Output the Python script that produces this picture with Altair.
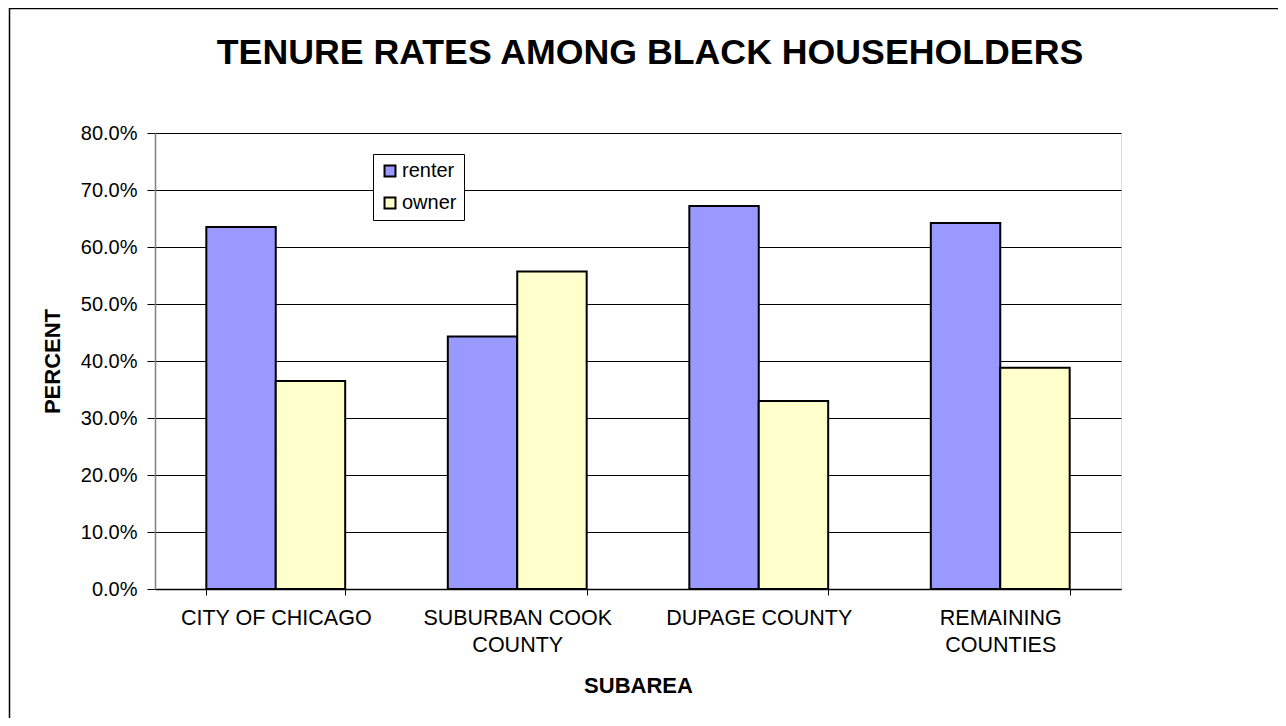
import altair as alt
import pandas as pd

title_text = ["TENURE RATES AMONG BLACK HOUSEHOLDERS"]
categories = ["CITY OF CHICAGO", "SUBURBAN COOK COUNTY", "DUPAGE COUNTY", "REMAINING COUNTIES"]
label_lines = [["CITY OF CHICAGO"], ["SUBURBAN COOK", "COUNTY"], ["DUPAGE COUNTY"], ["REMAINING", "COUNTIES"]]
series = ["renter", "owner"]
renter = [0.635, 0.443, 0.672, 0.642]
owner = [0.365, 0.557, 0.330, 0.388]
colors = ["#9999FF", "#FFFFCC"]
y_ticks = [0.0, 0.1, 0.2, 0.3, 0.4, 0.5, 0.6, 0.7, 0.8]

rows = []
for i, c in enumerate(categories):
    rows.append({"subarea": c, "tenure": "renter", "pct": renter[i]})
    rows.append({"subarea": c, "tenure": "owner", "pct": owner[i]})
df = pd.DataFrame(rows)

# multi-line label expression built from label_lines
expr = "datum.label"
for c, lines in zip(categories, label_lines):
    if len(lines) > 1:
        arr = "[" + ", ".join("'" + l + "'" for l in lines) + "]"
        expr = f"datum.label == '{c}' ? {arr} : (" + expr + ")"

FONT = "Liberation Sans"

bars = alt.Chart(df).mark_bar(stroke="black", strokeWidth=2).encode(
    x=alt.X(
        "subarea:N",
        sort=categories,
        scale=alt.Scale(paddingInner=0.425, paddingOuter=0.2125),
        axis=alt.Axis(
            title="SUBAREA",
            labelAngle=0,
            labelExpr=expr,
            labelLimit=0,
            labelFontSize=21.5,
            labelLineHeight=27.5,
            labelPadding=12,
            labelColor="black",
            labelFont=FONT,
            labelBaseline="top",
            tickBand="extent",
            tickSize=6,
            tickColor="black",
            domainColor="black",
            domainWidth=1.5,
            titleFont=FONT,
            titleFontSize=22,
            titleFontWeight="bold",
            titleColor="black",
            titleY=103,
            titleBaseline="alphabetic",
            grid=False,
        ),
    ),
    xOffset=alt.XOffset("tenure:N", sort=series, scale=alt.Scale(paddingInner=0, paddingOuter=0)),
    y=alt.Y(
        "pct:Q",
        scale=alt.Scale(domain=[0, 0.8], nice=False),
        axis=alt.Axis(
            title="PERCENT",
            values=y_ticks,
            format=".1%",
            labelFontSize=20,
            labelFont=FONT,
            labelColor="black",
            labelPadding=10,
            tickSize=8,
            tickColor="black",
            domainColor="#808080",
            domainWidth=1.5,
            grid=True,
            gridColor="black",
            gridWidth=1,
            titleFont=FONT,
            titleFontSize=22,
            titleFontWeight="bold",
            titleColor="black",
            titleX=-96,
            titleY=228,
            titleAngle=270,
            titleAlign="center",
            titleBaseline="alphabetic",
        ),
    ),
    color=alt.Color(
        "tenure:N",
        sort=series,
        scale=alt.Scale(domain=series, range=colors),
        legend=alt.Legend(
            title=None,
            orient="none",
            legendX=218,
            legendY=21,
            symbolType="square",
            symbolSize=120,
            symbolStrokeColor="black",
            symbolStrokeWidth=2,
            labelFontSize=20,
            labelFont=FONT,
            labelColor="black",
            labelOffset=2,
            fillColor="white",
            strokeColor="black",
            padding=7,
            rowPadding=12,
        ),
    ),
)

frame_df = pd.DataFrame({"k": [0]})
top_line = alt.Chart(frame_df).mark_rule(color="black", strokeWidth=1.5).encode(
    x=alt.value(-146), x2=alt.value(1125), y=alt.value(-124.5)
)
left_line = alt.Chart(frame_df).mark_rule(color="black", strokeWidth=1.5).encode(
    x=alt.value(-145.5), y=alt.value(-125), y2=alt.value(590)
)

title_df = pd.DataFrame({"t": title_text})
title_mark = alt.Chart(title_df).mark_text(
    font=FONT, fontSize=35.7, fontWeight="bold", color="black",
    align="center", baseline="alphabetic",
).encode(text="t:N", x=alt.value(495), y=alt.value(-69))

chart = alt.layer(bars, top_line, left_line, title_mark).properties(
    width=966,
    height=456,
    padding={"left": 147, "top": 125, "right": 157, "bottom": 129},
    autosize=alt.AutoSizeParams(type="none"),
).configure_view(stroke="#808080", strokeWidth=1.5).configure(background="white")

chart.save("out.html", embed_options={"renderer": "svg", "actions": False})
